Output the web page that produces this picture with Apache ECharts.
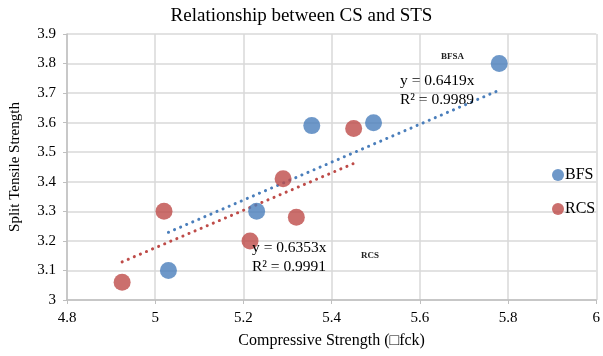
<!DOCTYPE html>
<html>
<head>
<meta charset="utf-8">
<script src="https://cdn.jsdelivr.net/npm/echarts@6/dist/echarts.min.js"></script>
<style>
  html, body { margin: 0; padding: 0; background: #fff; }
</style>
</head>
<body>
<div id="chart" style="width:603px;height:356px;"></div>
<script>
// data
const bfsData = [[5.03, 3.10], [5.23, 3.30], [5.355, 3.59], [5.495, 3.60], [5.78, 3.80]]
const rcsData = [[4.925, 3.06], [5.02, 3.30], [5.215, 3.20], [5.29, 3.41], [5.32, 3.28], [5.45, 3.58]]
// trendline ends (y = 0.6419x and y = 0.6353x)
const bfsTrend = [[5.03, 3.229], [5.78, 3.710]]
const rcsTrend = [[4.925, 3.129], [5.45, 3.462]]
const bfsEq = ['y = 0.6419x', 'R² = 0.9989']
const rcsEq = ['y = 0.6353x', 'R² = 0.9991']

const blue = '#4a7ebb'
const red = '#be4b48'
const font = '"Liberation Serif", "Times New Roman", serif'

let myChart = echarts.init(document.getElementById('chart'))
myChart.setOption({
  animation: false,
  textStyle: { fontFamily: font },
  title: {
    text: 'Relationship between CS and STS',
    left: 'center',
    top: 2,
    textStyle: { fontFamily: font, fontSize: 19, fontWeight: 'normal', color: '#000' }
  },
  legend: {
    orient: 'vertical',
    left: 547,
    top: 162,
    itemGap: 18,
    itemWidth: 12,
    itemHeight: 12,
    data: [
      { name: 'BFS', icon: 'circle' },
      { name: 'RCS', icon: 'circle' }
    ],
    textStyle: { fontFamily: font, fontSize: 16, color: '#000', padding: [0, 0, 0, -4] }
  },
  grid: { left: 64, right: 2, top: 34, bottom: 56 },
  xAxis: {
    type: 'value',
    min: 4.8, max: 6, interval: 0.2,
    name: 'Compressive Strength (\u25A1fck)',
    nameLocation: 'middle',
    nameGap: 33,
    nameTextStyle: { fontFamily: font, fontSize: 16, color: '#000' },
    axisLine: { show: true, lineStyle: { color: '#bfbfbf', width: 1.5 } },
    axisTick: { show: true, length: 4, lineStyle: { color: '#bfbfbf' } },
    axisLabel: { fontFamily: font, fontSize: 15, color: '#000', margin: 11,
      formatter: v => +v.toFixed(1) + '' },
    splitLine: { show: true, lineStyle: { color: '#d9d9d9', width: 1.5 } }
  },
  yAxis: {
    type: 'value',
    min: 3, max: 3.9, interval: 0.1,
    name: 'Split Tensile Strength',
    nameLocation: 'middle',
    nameGap: 44,
    nameTextStyle: { fontFamily: font, fontSize: 15, color: '#000' },
    axisLine: { show: true, lineStyle: { color: '#bfbfbf', width: 1.5 } },
    axisTick: { show: true, length: 4, lineStyle: { color: '#bfbfbf' } },
    axisLabel: { fontFamily: font, fontSize: 15, color: '#000', margin: 11,
      formatter: v => +v.toFixed(1) + '' },
    splitLine: { show: true, lineStyle: { color: '#d9d9d9', width: 1.5 } }
  },
  series: [
    {
      name: 'BFS trend', type: 'line', data: bfsTrend, symbol: 'none', silent: true,
      lineStyle: { color: blue, width: 3, type: [0.1, 6.5], cap: 'round' }, z: 2
    },
    {
      name: 'RCS trend', type: 'line', data: rcsTrend, symbol: 'none', silent: true,
      lineStyle: { color: red, width: 3, type: [0.1, 6.5], cap: 'round' }, z: 2
    },
    {
      name: 'BFS', type: 'scatter', data: bfsData, symbolSize: 17,
      itemStyle: { color: blue }, z: 3
    },
    {
      name: 'RCS', type: 'scatter', data: rcsData, symbolSize: 17,
      itemStyle: { color: red }, z: 3
    }
  ],
  graphic: [
    { type: 'text', left: 441, top: 52, style: { text: 'BFSA', font: 'bold 9px ' + font, fill: '#222' } },
    { type: 'text', left: 361, top: 251, style: { text: 'RCS', font: 'bold 9px ' + font, fill: '#222' } },
    { type: 'text', left: 400, top: 71, z: 10, style: { text: bfsEq.join('\n'), font: '15.5px ' + font, lineHeight: 19, fill: '#000' } },
    { type: 'text', left: 252, top: 238, z: 10, style: { text: rcsEq.join('\n'), font: '15.5px ' + font, lineHeight: 19, fill: '#000' } }
  ]
})
</script>
</body>
</html>
